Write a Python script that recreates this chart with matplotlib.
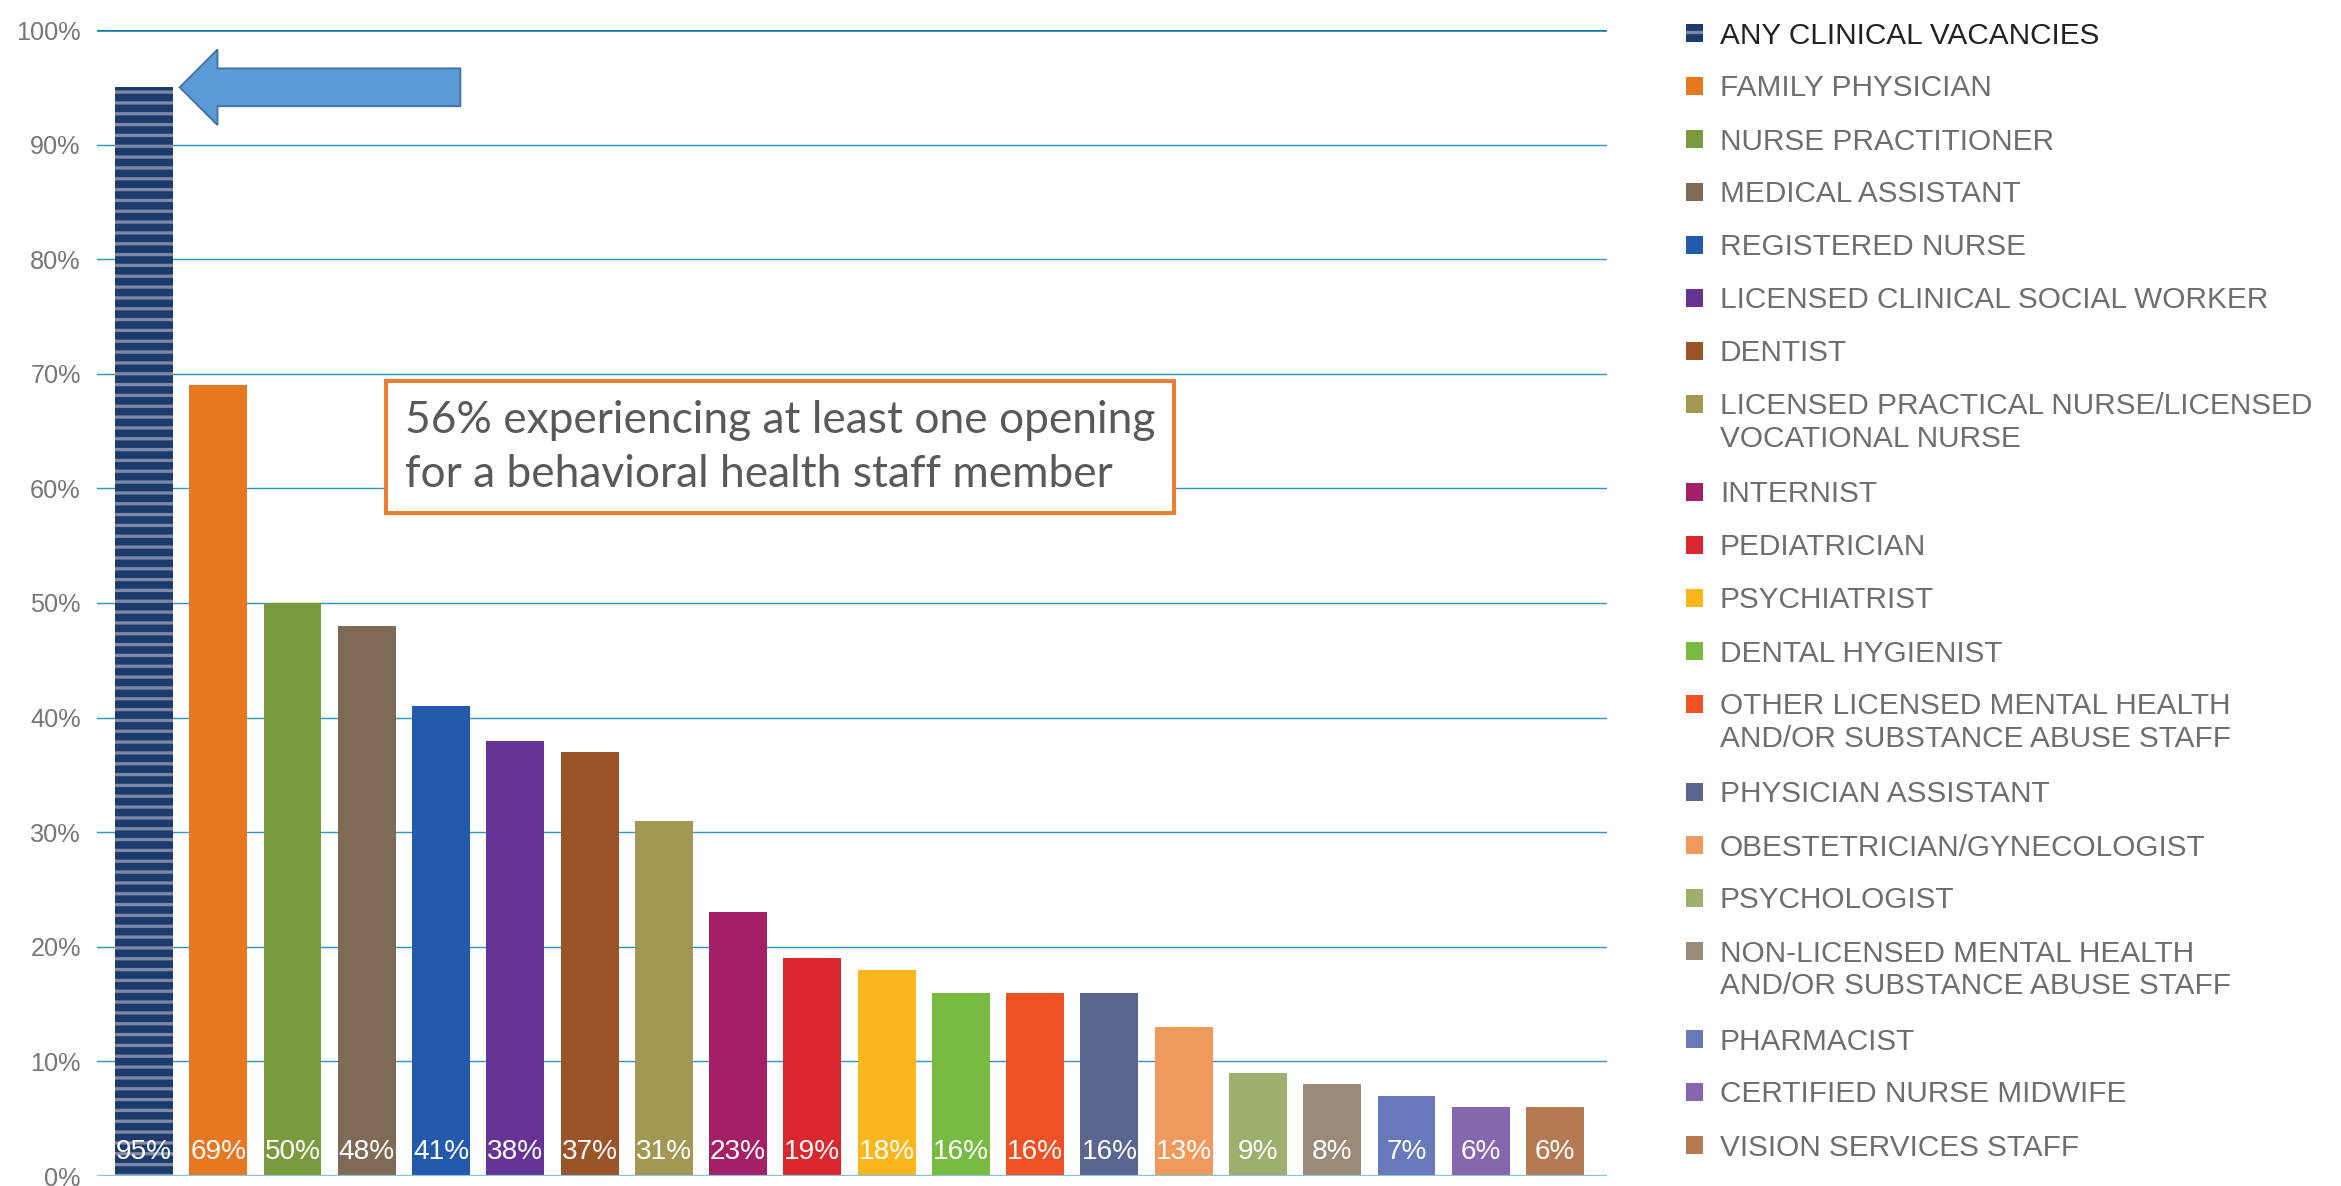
import matplotlib
matplotlib.use("Agg")
import matplotlib.pyplot as plt
from matplotlib.patches import FancyArrow, Rectangle

positions = [
    "ANY CLINICAL VACANCIES",
    "FAMILY PHYSICIAN",
    "NURSE PRACTITIONER",
    "MEDICAL ASSISTANT",
    "REGISTERED NURSE",
    "LICENSED CLINICAL SOCIAL WORKER",
    "DENTIST",
    "LICENSED PRACTICAL NURSE/LICENSED\nVOCATIONAL NURSE",
    "INTERNIST",
    "PEDIATRICIAN",
    "PSYCHIATRIST",
    "DENTAL HYGIENIST",
    "OTHER LICENSED MENTAL HEALTH\nAND/OR SUBSTANCE ABUSE STAFF",
    "PHYSICIAN ASSISTANT",
    "OBESTETRICIAN/GYNECOLOGIST",
    "PSYCHOLOGIST",
    "NON-LICENSED MENTAL HEALTH\nAND/OR SUBSTANCE ABUSE STAFF",
    "PHARMACIST",
    "CERTIFIED NURSE MIDWIFE",
    "VISION SERVICES STAFF",
]
vacancy_pct = [95, 69, 50, 48, 41, 38, 37, 31, 23, 19, 18, 16, 16, 16, 13, 9, 8, 7, 6, 6]
bar_colors = [
    "#1d3c6e", "#e87722", "#7a9a3e", "#7e6a55", "#245aab",
    "#643394", "#9b5428", "#a29854", "#a51f66", "#da272d",
    "#fcb61d", "#78bb43", "#ee5224", "#5a6590", "#ef9a5c",
    "#9daf6c", "#9c8a79", "#6779bb", "#8666ac", "#b47a53",
]
y_ticks = list(range(0, 101, 10))
callout = "56% experiencing at least one opening\nfor a behavioral health staff member"

DPI = 130
W, H = 2341, 1186
plt.rcParams["font.family"] = ["Liberation Sans", "DejaVu Sans"]
plt.rcParams["hatch.linewidth"] = 1.8

fig = plt.figure(figsize=(W / DPI, H / DPI), dpi=DPI)
ax = fig.add_axes([97 / W, 10 / H, 1510 / W, 1146 / H])

x = list(range(len(vacancy_pct)))
bars = ax.bar(x, vacancy_pct, width=0.78, color=bar_colors, linewidth=0, zorder=3)
# striped total bar
bars[0].set_hatch("--")
bars[0].set_edgecolor("#8088a8")
bars[0].set_linewidth(0)

for xi, v in zip(x, vacancy_pct):
    ax.text(xi, 1.5, f"{v}%", ha="center", va="baseline", color="white",
            fontsize=15.5, zorder=4)

ax.set_xlim(-0.633, 19.70)
ax.set_ylim(0, 100)
ax.set_xticks([])
ax.set_yticks(y_ticks, labels=[f"{t}%" for t in y_ticks])
ax.tick_params(axis="y", length=0, pad=9, labelsize=14, labelcolor="#777777")
for s in ax.spines.values():
    s.set_visible(False)

for t in y_ticks:
    if t == 100:
        ax.axhline(t, color="#0b7ba3", lw=1.4, zorder=1)
    elif t == 0:
        ax.axhline(t, color="#86c3dc", lw=1.8, zorder=5)
    else:
        ax.axhline(t, color="#3596c0", lw=0.8, zorder=1)

# arrow pointing at the total bar
ax.add_patch(FancyArrow(4.26, vacancy_pct[0], -3.78, 0, width=3.3, head_width=6.6,
                        head_length=0.51, length_includes_head=True,
                        facecolor="#5b9bd5", edgecolor="#41719c", lw=1.0, zorder=4))

ax.text(0.204, 0.636, callout, transform=ax.transAxes, ha="left", va="center",
        fontsize=24.5, color="#595959", family=["Lato", "DejaVu Sans"], linespacing=1.4,
        zorder=6,
        bbox=dict(boxstyle="square,pad=0.42", facecolor="white", edgecolor="#ed7d31",
                  lw=2.2))

# legend drawn row by row in pixel space
y_center = 33
for label, col, i in zip(positions, bar_colors, x):
    fy = 1 - y_center / H
    sq = Rectangle((1686 / W, fy - 9 / H), 17 / W, 18 / H, transform=fig.transFigure,
                   facecolor=col, edgecolor="none")
    if i == 0:
        sq.set_hatch("-")
        sq.set_edgecolor("#8088a8")
        sq.set_linewidth(0)
    fig.patches.append(sq)
    fig.text(1720 / W, 1 - (y_center - 11.5) / H, label, ha="left", va="top",
             fontsize=16.5, color="#222222" if i == 0 else "#6d6e71", linespacing=1.2)
    y_center += 53 + 35 * label.count("\n")

fig.savefig("out.png", dpi=DPI, facecolor="white")
